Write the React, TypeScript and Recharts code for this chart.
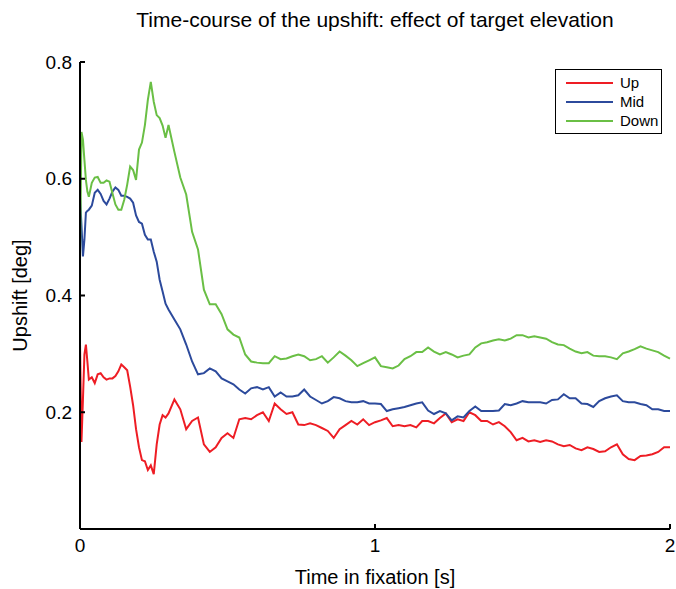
import { Label, Legend, Line, LineChart, XAxis, YAxis } from "recharts";

const FONT = "'Liberation Sans', Arial, Helvetica, sans-serif";

// time samples [s]: dense around fixation onset, then every 20 ms
const TIME = [
  0, 0.005, 0.01, 0.015, 0.02, 0.025, 0.03,
  0.04, 0.05, 0.06, 0.07, 0.08, 0.09, 0.1, 0.11, 0.12, 0.13,
  0.14, 0.15, 0.16, 0.17, 0.18, 0.19, 0.2, 0.21, 0.22, 0.23,
  0.24, 0.25, 0.26, 0.27, 0.28, 0.29, 0.3,
  0.32, 0.34, 0.36, 0.38, 0.4, 0.42, 0.44, 0.46, 0.48, 0.5,
  0.52, 0.54, 0.56, 0.58, 0.6, 0.62, 0.64, 0.66, 0.68, 0.7,
  0.72, 0.74, 0.76, 0.78, 0.8, 0.82, 0.84, 0.86, 0.88, 0.9,
  0.92, 0.94, 0.96, 0.98, 1.0, 1.02, 1.04, 1.06, 1.08, 1.1,
  1.12, 1.14, 1.16, 1.18, 1.2, 1.22, 1.24, 1.26, 1.28, 1.3,
  1.32, 1.34, 1.36, 1.38, 1.4, 1.42, 1.44, 1.46, 1.48, 1.5,
  1.52, 1.54, 1.56, 1.58, 1.6, 1.62, 1.64, 1.66, 1.68, 1.7,
  1.72, 1.74, 1.76, 1.78, 1.8, 1.82, 1.84, 1.86, 1.88, 1.9,
  1.92, 1.94, 1.96, 1.98, 2.0,
];

// upshift [deg] per target elevation
const UP = [
  0.32, 0.149, 0.222, 0.299, 0.316, 0.287, 0.256,
  0.26, 0.25, 0.265, 0.267, 0.26, 0.256, 0.258, 0.258, 0.262, 0.27,
  0.282, 0.277, 0.272, 0.244, 0.212, 0.171, 0.14, 0.118, 0.116, 0.101,
  0.109, 0.094, 0.145, 0.179, 0.195, 0.191, 0.198,
  0.222, 0.205, 0.171, 0.185, 0.191, 0.145, 0.132, 0.14, 0.156, 0.164,
  0.156, 0.188, 0.19, 0.188, 0.195, 0.2, 0.185, 0.215, 0.205, 0.197,
  0.2, 0.179, 0.178, 0.181, 0.178, 0.173, 0.168, 0.156, 0.171, 0.178,
  0.185, 0.179, 0.188, 0.178, 0.183, 0.186, 0.19, 0.176, 0.178, 0.176,
  0.178, 0.174, 0.185, 0.185, 0.181, 0.19, 0.198, 0.183, 0.188, 0.185,
  0.2, 0.195, 0.185, 0.185, 0.179, 0.183, 0.176, 0.166, 0.152, 0.156,
  0.15, 0.152, 0.149, 0.152, 0.15, 0.145, 0.142, 0.144, 0.138, 0.135,
  0.14, 0.137, 0.132, 0.133, 0.14, 0.145, 0.128, 0.12, 0.118, 0.125,
  0.126, 0.128, 0.132, 0.14, 0.14,
];

const MID = [
  0.57, 0.52, 0.467, 0.496, 0.542, 0.545, 0.547,
  0.554, 0.576, 0.581, 0.574, 0.562, 0.556, 0.566, 0.578, 0.585, 0.581,
  0.571, 0.571, 0.569, 0.566, 0.559, 0.537, 0.526, 0.523, 0.504, 0.496,
  0.496, 0.475, 0.458, 0.427, 0.407, 0.386, 0.376,
  0.359, 0.342, 0.316, 0.287, 0.265, 0.267, 0.275, 0.27, 0.258, 0.253,
  0.248, 0.239, 0.232, 0.241, 0.243, 0.239, 0.243, 0.227, 0.234, 0.227,
  0.227, 0.229, 0.239, 0.227, 0.221, 0.215, 0.219, 0.226, 0.224, 0.219,
  0.217, 0.217, 0.219, 0.215, 0.215, 0.214, 0.202, 0.205, 0.207, 0.209,
  0.212, 0.215, 0.217, 0.203, 0.197, 0.202, 0.198, 0.186, 0.193, 0.191,
  0.202, 0.21, 0.202, 0.202, 0.202, 0.203, 0.214, 0.212, 0.215, 0.219,
  0.217, 0.217, 0.217, 0.215, 0.221, 0.222, 0.231, 0.224, 0.224, 0.215,
  0.214, 0.209, 0.219, 0.224, 0.227, 0.229, 0.219, 0.217, 0.217, 0.214,
  0.212, 0.205, 0.205, 0.202, 0.202,
];

const DOWN = [
  0.462, 0.68, 0.667, 0.632, 0.598, 0.578, 0.569,
  0.593, 0.602, 0.603, 0.593, 0.593, 0.597, 0.595, 0.575, 0.556, 0.547,
  0.547, 0.564, 0.59, 0.621, 0.615, 0.598, 0.65, 0.662, 0.692, 0.735,
  0.766, 0.732, 0.709, 0.704, 0.691, 0.67, 0.692,
  0.646, 0.602, 0.573, 0.509, 0.479, 0.41, 0.385, 0.385, 0.368, 0.342,
  0.333, 0.328, 0.299, 0.287, 0.285, 0.284, 0.284, 0.296, 0.291, 0.292,
  0.296, 0.299, 0.296, 0.289, 0.291, 0.296, 0.285, 0.294, 0.304, 0.297,
  0.289, 0.279, 0.284, 0.289, 0.294, 0.279, 0.277, 0.275, 0.28, 0.291,
  0.296, 0.303, 0.303, 0.311, 0.304, 0.299, 0.303, 0.299, 0.294, 0.297,
  0.299, 0.311, 0.318, 0.32, 0.323, 0.325, 0.323, 0.326, 0.332, 0.332,
  0.328, 0.33, 0.328, 0.326, 0.32, 0.316, 0.315, 0.309, 0.304, 0.301,
  0.303, 0.297, 0.296, 0.296, 0.294, 0.291, 0.301, 0.304, 0.308, 0.313,
  0.309, 0.306, 0.303, 0.297, 0.292,
];

const X_TICKS = [0, 1, 2];
const Y_TICKS = [0.2, 0.4, 0.6, 0.8];

const SERIES = [
  { key: "up", name: "Up", color: "#ee1d24" },
  { key: "mid", name: "Mid", color: "#2c4a9c" },
  { key: "down", name: "Down", color: "#6abf45" },
];

const rows = TIME.map((t, i) => ({ t, up: UP[i], mid: MID[i], down: DOWN[i] }));

const TICK_LEN = 5;
const X_GAP = 10;
const Y_GAP = 8;

// ticks point into the plot, matlab style
function XTick({ x, y, payload }: any) {
  const axisY = y - X_GAP;
  return (
    <g>
      <line x1={x} x2={x} y1={axisY} y2={axisY - TICK_LEN} stroke="#000" strokeWidth={2} />
      <text x={x} y={y} dy="0.71em" textAnchor="middle" fill="#000" fontSize={19} fontFamily={FONT}>
        {payload.value}
      </text>
    </g>
  );
}

function YTick({ x, y, payload }: any) {
  const axisX = x + Y_GAP;
  return (
    <g>
      <line x1={axisX} x2={axisX + TICK_LEN} y1={y} y2={y} stroke="#000" strokeWidth={2} />
      <text x={x} y={y} dy="0.355em" textAnchor="end" fill="#000" fontSize={19} fontFamily={FONT}>
        {Number(payload.value).toFixed(1)}
      </text>
    </g>
  );
}

function LegendBox({ payload }: any) {
  const items = SERIES.map((s) => (payload || []).find((p: any) => p.value === s.name) || { value: s.name, color: s.color });
  return (
    <div
      style={{
        border: "1px solid #000",
        background: "#fff",
        padding: "3px 0 3px 10px",
        width: 107,
        boxSizing: "border-box",
        fontFamily: FONT,
        fontSize: 15,
        color: "#000",
      }}
    >
      {items.map((entry: any) => (
        <div key={entry.value} style={{ display: "flex", alignItems: "center", height: 19 }}>
          <span style={{ width: 47, borderTop: `2px solid ${entry.color}`, marginRight: 7 }} />
          <span>{entry.value}</span>
        </div>
      ))}
    </div>
  );
}

function YTitle({ viewBox }: any) {
  const cy = viewBox.y + viewBox.height / 2;
  return (
    <text
      transform={`translate(27, ${cy}) rotate(-90)`}
      textAnchor="middle"
      fontFamily={FONT}
      fontSize={20}
      fill="#000"
    >
      Upshift [deg]
    </text>
  );
}

export default function App() {
  return (
    <div style={{ position: "absolute", left: 0, top: 0, width: 676, height: 589, overflow: "hidden", background: "#fff" }}>
      <div
        style={{
          position: "absolute",
          left: 80,
          width: 590,
          top: 8,
          textAlign: "center",
          fontFamily: FONT,
          fontSize: 21,
          color: "#000",
        }}
      >
        Time-course of the upshift: effect of target elevation
      </div>
      <LineChart width={676} height={589} data={rows} margin={{ top: 62, right: 6, bottom: 0, left: 0 }}>
        <XAxis
          dataKey="t"
          type="number"
          domain={[0, 2]}
          ticks={X_TICKS}
          interval={0}
          height={60}
          tickSize={0}
          tickMargin={X_GAP}
          axisLine={{ stroke: "#000", strokeWidth: 2 }}
          tickLine={false}
          tick={<XTick />}
        >
          <Label value="Time in fixation [s]" position="insideBottom" offset={5} fill="#000" fontSize={20} fontFamily={FONT} />
        </XAxis>
        <YAxis
          type="number"
          domain={[0, 0.8]}
          ticks={Y_TICKS}
          interval={0}
          width={80}
          tickSize={0}
          tickMargin={Y_GAP}
          axisLine={{ stroke: "#000", strokeWidth: 2 }}
          tickLine={false}
          tick={<YTick />}
        >
          <Label content={<YTitle />} />
        </YAxis>
        <Legend
          layout="vertical"
          align="center"
          verticalAlign="middle"
          content={<LegendBox />}
          wrapperStyle={{ left: 555, top: 69, width: 107 }}
        />
        {SERIES.map((s) => (
          <Line
            key={s.key}
            dataKey={s.key}
            name={s.name}
            stroke={s.color}
            strokeWidth={2}
            dot={false}
            activeDot={false}
            isAnimationActive={false}
          />
        ))}
      </LineChart>
    </div>
  );
}
